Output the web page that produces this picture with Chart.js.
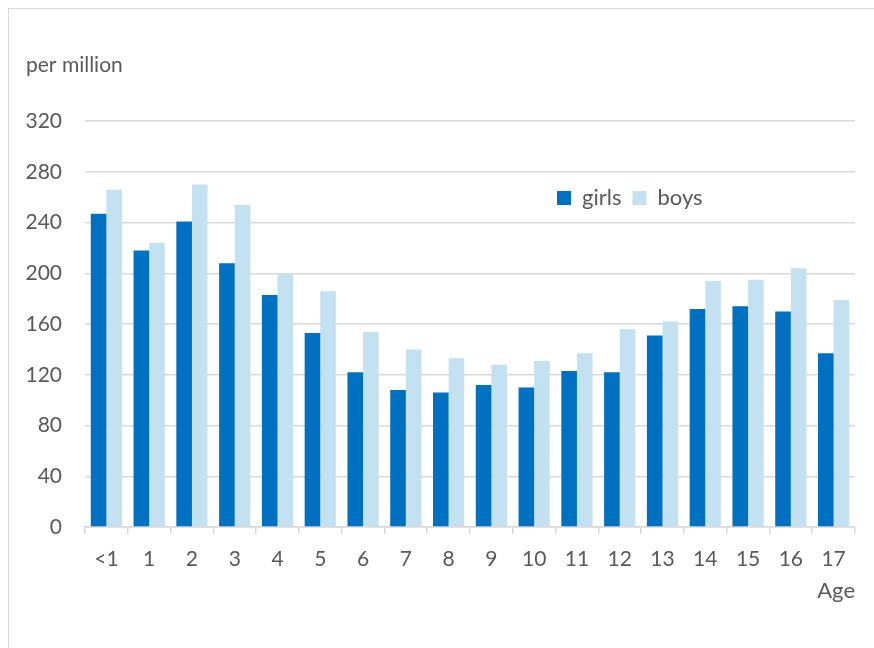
<!DOCTYPE html>
<html>
<head>
<meta charset="utf-8">
<script src="https://cdn.jsdelivr.net/npm/chart.js@4"></script>
<style>
  html, body { margin: 0; padding: 0; background: #fff; overflow: hidden; }
  #frame { position: absolute; left: 8px; top: 8px; width: 900px; height: 700px; border: 1.5px solid #d9d9d9; box-sizing: border-box; }
  #wrap { position: absolute; left: 0; top: 0; width: 874px; height: 648px; }
</style>
</head>
<body>
<div id="frame"></div>
<div id="wrap"><canvas id="c" width="874" height="648"></canvas></div>
<script>
const categories = ['<1','1','2','3','4','5','6','7','8','9','10','11','12','13','14','15','16','17'];
const girls = [247, 218, 241, 208, 183, 153, 122, 108, 106, 112, 110, 123, 122, 151, 172, 174, 170, 137];
const boys  = [266, 224, 270, 254, 200, 186, 154, 140, 133, 128, 131, 137, 156, 162, 194, 195, 204, 179];
const yTicks = [0, 40, 80, 120, 160, 200, 240, 280, 320];

const FONT = 'Lato, "Open Sans", sans-serif';
const TXT = '#595959';
const GRID = '#d9d9d9';

const moveLegend = {
  id: 'moveLegend',
  afterLayout(chart) {
    const lg = chart.legend;
    if (!lg) return;
    const h = lg.height;
    const w = lg.width;
    lg.left = 546;
    lg.right = 546 + w;
    lg.top = 176;
    lg.bottom = 176 + h;
  }
};

new Chart(document.getElementById('c'), {
  type: 'bar',
  data: {
    labels: categories,
    datasets: [
      { label: 'girls', data: girls, backgroundColor: '#0070C0', borderWidth: 0 },
      { label: 'boys', data: boys, backgroundColor: '#C3E1F1', borderWidth: 0 }
    ]
  },
  options: {
    responsive: false,
    animation: false,
    devicePixelRatio: 1,
    layout: { padding: { left: 26, top: 53, right: 19, bottom: 44 } },
    categoryPercentage: 0.73,
    barPercentage: 1.0,
    plugins: {
      title: {
        display: true, text: 'per million', align: 'start', color: TXT,
        font: { family: FONT, size: 21, weight: 'normal', lineHeight: 1.2 },
        padding: { top: 0, bottom: 0 }
      },
      legend: {
        display: true, position: 'top', align: 'start',
        labels: {
          color: TXT, boxWidth: 14, boxHeight: 14, padding: 11,
          font: { family: FONT, size: 22 }
        }
      },
      tooltip: { enabled: false }
    },
    scales: {
      x: {
        afterFit(scale) { scale.height = 77; },
        grid: { display: true, drawOnChartArea: false, drawTicks: true, tickLength: 7, color: GRID, lineWidth: 1.5, offset: true },
        border: { display: true, color: GRID, width: 1.5 },
        ticks: { color: TXT, padding: 13, font: { family: FONT, size: 21 }, maxRotation: 0, autoSkip: false },
        title: {
          display: true, text: 'Age', align: 'end', color: TXT,
          font: { family: FONT, size: 22, lineHeight: 1.2 },
          padding: { top: 0, bottom: 0 }
        }
      },
      y: {
        min: 0, max: 320,
        afterBuildTicks(scale) { scale.ticks = yTicks.map(v => ({ value: v })); },
        afterFit(scale) { scale.width = 59; },
        grid: { color: GRID, lineWidth: 1.5, drawTicks: false },
        border: { display: false },
        ticks: { color: TXT, padding: 23, font: { family: FONT, size: 21 } }
      }
    }
  },
  plugins: [moveLegend]
});
</script>
</body>
</html>
